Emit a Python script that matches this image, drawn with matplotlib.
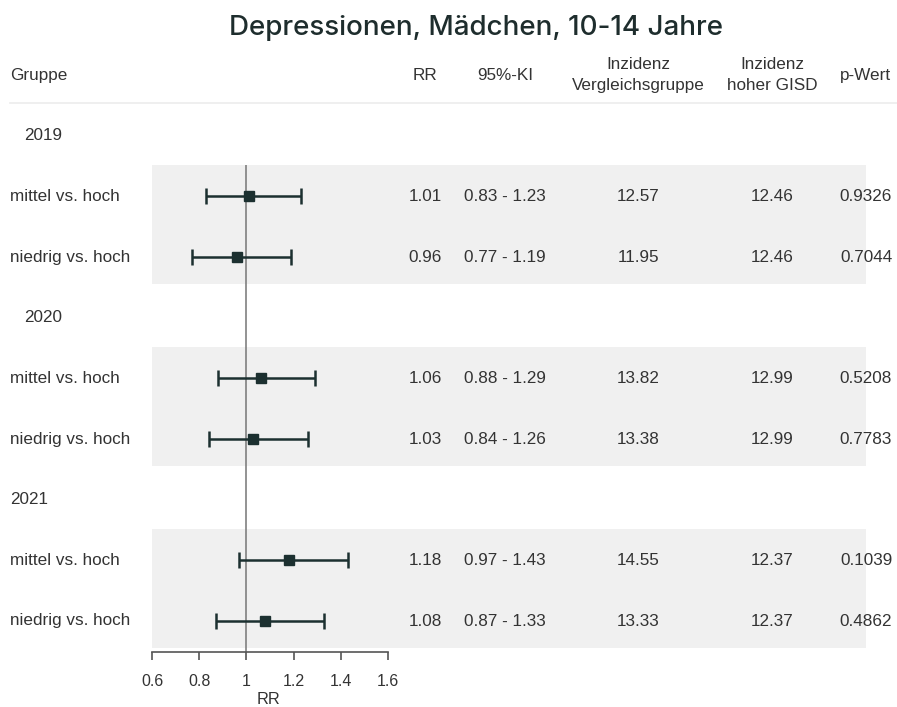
import matplotlib.pyplot as plt
from matplotlib.transforms import blended_transform_factory

# data
years = ["2019", "2020", "2021"]
groups = ["mittel vs. hoch", "niedrig vs. hoch"]
rr = [1.01, 0.96, 1.06, 1.03, 1.18, 1.08]
ci_low = [0.83, 0.77, 0.88, 0.84, 0.97, 0.87]
ci_high = [1.23, 1.19, 1.29, 1.26, 1.43, 1.33]
inz_vergleich = ["12.57", "11.95", "13.82", "13.38", "14.55", "13.33"]
inz_hoch = ["12.46", "12.46", "12.99", "12.99", "12.37", "12.37"]
p_wert = ["0.9326", "0.7044", "0.5208", "0.7783", "0.1039", "0.4862"]
xticks = [0.6, 0.8, 1.0, 1.2, 1.4, 1.6]
xticklabels = ["0.6", "0.8", "1", "1.2", "1.4", "1.6"]

W, H = 897, 707
plt.rcParams['font.family'] = ['Liberation Sans', 'DejaVu Sans']
txt_col = "#333333"
mark_col = "#1c3030"
fs = 12.3

fig = plt.figure(figsize=(W / 100, H / 100), dpi=100)
ax = fig.add_axes([0, 1 - 652 / H, 1, 652 / H])

# x scale: 0.6 at px 152, 1.6 at px 388
ppu = 236.0
ax.set_xlim(0.6 - 152 / ppu, 0.6 + (W - 152) / ppu)
pitch = (621 - 75) / 9
ax.set_ylim((652 - 75) / pitch, -75 / pitch)

def fx(px):
    return px / W

tr = blended_transform_factory(ax.transAxes, ax.transData)

# header
ax.text(fx(10), 0, "Gruppe", transform=tr, ha="left", va="center", fontsize=fs, color=txt_col)
ax.text(fx(425), 0, "RR", transform=tr, ha="center", va="center", fontsize=fs, color=txt_col)
ax.text(fx(505), 0, "95%-KI", transform=tr, ha="center", va="center", fontsize=fs, color=txt_col)
ax.text(fx(638), 0, "Inzidenz\nVergleichsgruppe", transform=tr, ha="center", va="center",
        fontsize=fs, color=txt_col, linespacing=1.45)
ax.text(fx(772), 0, "Inzidenz\nhoher GISD", transform=tr, ha="center", va="center",
        fontsize=fs, color=txt_col, linespacing=1.45)
ax.text(fx(865), 0, "p-Wert", transform=tr, ha="center", va="center", fontsize=fs, color=txt_col)
ax.plot([fx(10), 1], [0.46, 0.46], transform=tr, color="#ececec", lw=1.2)

y = 1
data_rows = []
year_x = [24, 24, 10]
for i, yr in enumerate(years):
    ax.text(fx(year_x[i]), y, yr, transform=tr, ha="left", va="center", fontsize=fs, color=txt_col)
    y += 1
    first = y
    for g in groups:
        ax.text(fx(10), y, g, transform=tr, ha="left", va="center", fontsize=fs, color=txt_col)
        data_rows.append(y)
        y += 1
    ax.axhspan(first - 0.52, y - 1 + 0.445, xmin=fx(152), xmax=fx(866), color="#f0f0f0", lw=0, zorder=0)

ax.vlines(1.0, data_rows[0] - 0.52, ax.get_ylim()[0], color="#808080", lw=1.2, zorder=1)

err = [[r - lo for r, lo in zip(rr, ci_low)], [hi - r for r, hi in zip(rr, ci_high)]]
ax.errorbar(rr, data_rows, xerr=err, fmt="s", color=mark_col, ecolor=mark_col,
            ms=7.5, elinewidth=1.8, capsize=5.5, capthick=1.8, zorder=3)

for k, yy in enumerate(data_rows):
    ax.text(fx(425), yy, f"{rr[k]:.2f}", transform=tr, ha="center", va="center", fontsize=fs, color=txt_col)
    ax.text(fx(505), yy, f"{ci_low[k]:.2f} - {ci_high[k]:.2f}", transform=tr, ha="center",
            va="center", fontsize=fs, color=txt_col)
    ax.text(fx(638), yy, inz_vergleich[k], transform=tr, ha="center", va="center", fontsize=fs, color=txt_col)
    ax.text(fx(772), yy, inz_hoch[k], transform=tr, ha="center", va="center", fontsize=fs, color=txt_col)
    ax.text(fx(866), yy, p_wert[k], transform=tr, ha="center", va="center", fontsize=fs, color=txt_col)

# axis
for s in ["top", "left", "right"]:
    ax.spines[s].set_visible(False)
ax.spines["bottom"].set_bounds(0.6, 1.6)
ax.spines["bottom"].set_color("#555555")
ax.spines["bottom"].set_linewidth(1.2)
ax.set_xticks(xticks)
ax.set_xticklabels(xticklabels)
ax.tick_params(axis="x", length=5.8, width=1.2, color="#555555", pad=10, labelsize=fs - 0.8,
               labelcolor=txt_col)
ax.set_yticks([])
ax.set_xlabel("RR", fontsize=fs - 0.5, color=txt_col)
ax.xaxis.set_label_coords(fx(268), -0.062)

fig.text(fx(476), 1 - 28 / H, "Depressionen, Mädchen, 10-14 Jahre", ha="center", va="center",
         fontsize=20, color="#1e2d2d", family=["Inter", "DejaVu Sans"], fontweight="medium")

fig.savefig("out.png", dpi=100)
